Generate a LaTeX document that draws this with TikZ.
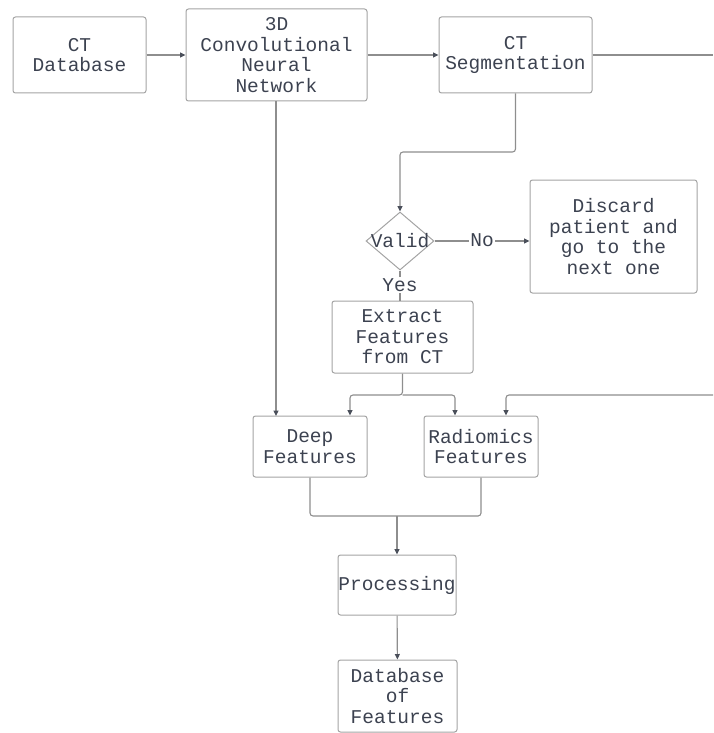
\documentclass[tikz,border=0pt]{standalone}
\usepackage{fontspec}
\setmonofont{Liberation Mono}
\usetikzlibrary{shapes.geometric,arrows.meta}
\definecolor{txt}{HTML}{3C4250}
\definecolor{edge}{HTML}{A3A3A3}
\definecolor{wire}{HTML}{8E8E8E}
\definecolor{tip}{HTML}{4A4F5A}
\begin{document}
\begin{tikzpicture}[x=1pt,y=-1pt,
  every node/.style={text=txt, font=\ttfamily\fontsize{19.5}{20.5}\selectfont, align=center},
  box/.style={draw=edge, line width=1pt, rounded corners=2.5pt, inner sep=0pt},
  wirestyle/.style={draw=wire, line width=1.1pt, rounded corners=3pt},
  arr/.style={wirestyle, -{Triangle[length=5.5pt,width=5pt,fill=tip,color=tip]}},
  tag/.style={fill=white, inner sep=1pt}]
\useasboundingbox (0,0) rectangle (713,733);

% process boxes
\node[box, minimum width=133pt, minimum height=76pt] (db) at (79.5,55) {CT\\Database};
\node[box, minimum width=181pt, minimum height=92pt] (cnn) at (276.5,55) {3D\\Convolutional\\Neural\\Network};
\node[box, minimum width=153pt, minimum height=76pt] (seg) at (515.5,55) {CT\\Segmentation};
\node[diamond, draw=edge, line width=1pt, inner sep=0pt, minimum width=68pt, minimum height=58pt] (valid) at (400,241) {};
\node[inner sep=0pt] at (valid) {Valid};
\node[box, minimum width=167pt, minimum height=113pt] (discard) at (613.5,236.5) {Discard\\patient and\\go to the\\next one};
\node[box, minimum width=141pt, minimum height=72pt] (extract) at (402.5,337) {Extract\\Features\\from CT};
\node[box, minimum width=114pt, minimum height=61pt] (deep) at (310,446.5) {Deep\\Features};
\node[box, minimum width=114pt, minimum height=61pt] (radio) at (481,446.5) {Radiomics\\Features};
\node[box, minimum width=118pt, minimum height=60pt] (proc) at (397,585) {Processing};
\node[box, minimum width=119pt, minimum height=72pt] (dbf) at (397.5,696) {Database\\of\\Features};

% free ends and junctions
\coordinate (segout) at (713,55);
\coordinate (radin) at (713,395);
\coordinate (merge) at (397,516);
\coordinate (split) at (402.5,395);

% connectors
\draw[arr] (db) -- (cnn);
\draw[arr] (cnn) -- (seg);
\draw[wirestyle] (seg) -- (segout);
\draw[arr] (seg.south) -- (515.5,152) -- (400,152) -- (valid.north);
\draw[arr] (valid.east) -- (discard.west |- valid.east);
\node[tag] at (482,240) {No};
\draw[wirestyle] (valid.south) -- (extract.north -| valid.south);
\node[tag] at (400,285) {Yes};
\draw[arr] (cnn.south -| 276,0) -- (276,416);
\draw[arr] (extract.south) -- (split) -| ([xshift=40pt]deep.north);
\draw[arr] (split) -| ([xshift=-26pt]radio.north);
\draw[arr] (radin) -| ([xshift=25pt]radio.north);
\draw[wirestyle] (deep.south) |- (merge) -| (radio.south);
\draw[arr] (merge) -- (proc.north);
\draw[arr] (proc) -- (dbf);
\end{tikzpicture}
\end{document}
